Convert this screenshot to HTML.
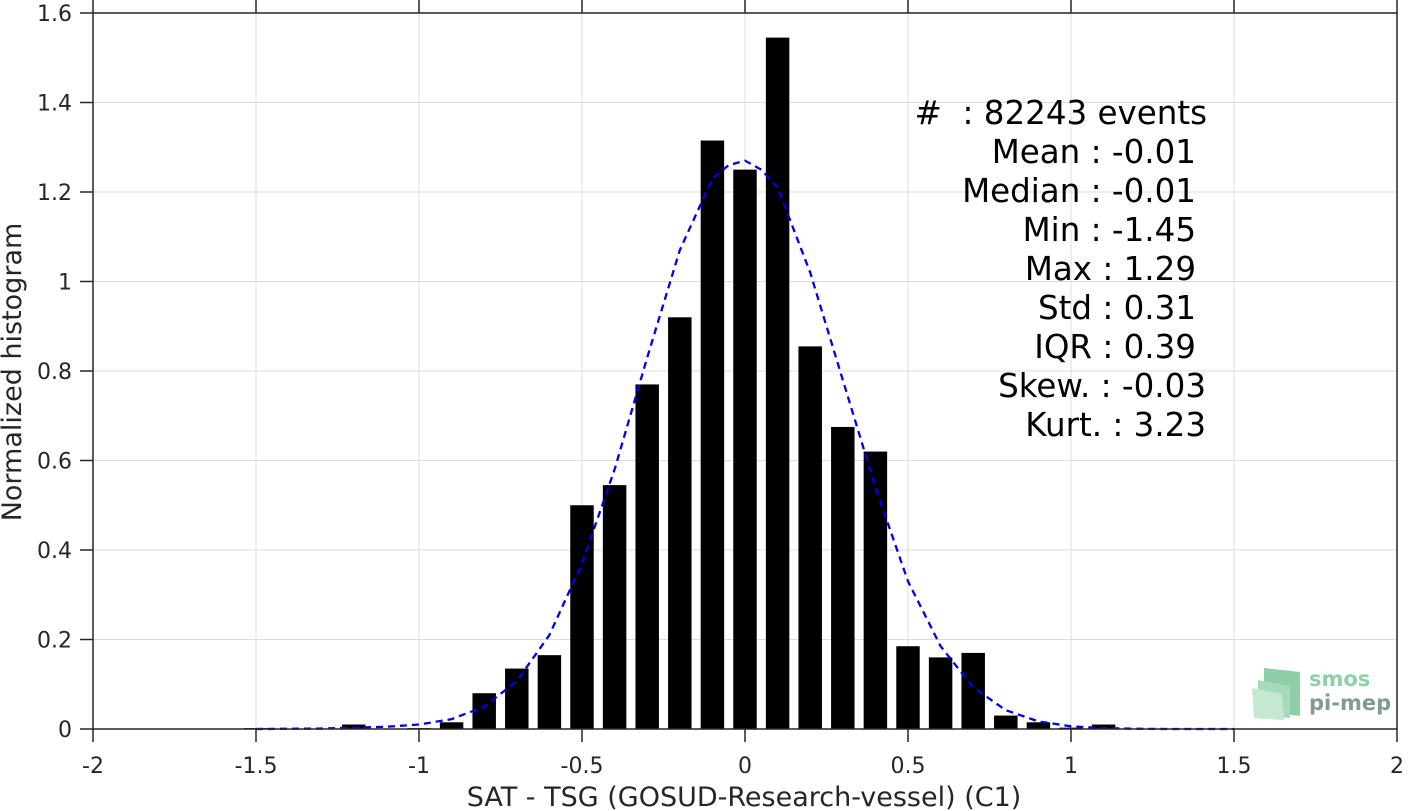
<!DOCTYPE html>
<html><head><meta charset="utf-8"><style>
html,body{margin:0;padding:0;background:#fff;}
svg{display:block;font-family:"DejaVu Sans","Liberation Sans",sans-serif;}
text{white-space:pre;}
</style></head><body>
<svg id="chart" width="1408" height="811" viewBox="0 0 1408 811" xmlns="http://www.w3.org/2000/svg">
<g id="grid"></g>
<g id="bars"></g>
<polyline id="fit" fill="none" stroke="#0000ee" stroke-width="2.3" stroke-dasharray="7,5"/>
<g id="axes"></g>
<g id="stats" font-size="32.5" fill="#000" text-anchor="end"></g>
<text x="744" y="806" font-size="27" fill="#262626" text-anchor="middle">SAT - TSG (GOSUD-Research-vessel) (C1)</text>
<text transform="translate(21,372) rotate(-90)" font-size="27" fill="#262626" text-anchor="middle">Normalized histogram</text>
<g>
<polygon points="1264,668 1300,672 1300,716 1264,712" fill="#8fcfa8"/>
<polygon points="1258,680 1290,686 1290,718 1258,716" fill="#a5dbb9"/>
<polygon points="1252,688 1282,694 1284,720 1254,718" fill="#c5e8d0"/>
<text x="1309" y="686" font-size="21" font-weight="bold" fill="#8fd0a8">smos</text>
<text x="1309" y="710" font-size="21" font-weight="bold" fill="#7f9c8c">pi-mep</text>
</g>
</svg>
<script>
const binCenters=[-1.5,-1.4,-1.3,-1.2,-1.1,-1.0,-0.9,-0.8,-0.7,-0.6,-0.5,-0.4,-0.3,-0.2,-0.1,0,0.1,0.2,0.3,0.4,0.5,0.6,0.7,0.8,0.9,1.0,1.1,1.2,1.3,1.4,1.5];
const binValues=[0.002,0,0,0.01,0,0.002,0.015,0.08,0.135,0.165,0.50,0.545,0.77,0.92,1.315,1.25,1.545,0.855,0.675,0.62,0.185,0.16,0.17,0.03,0.015,0.003,0.01,0,0,0,0];
const fitX=[-1.5,-1.4,-1.3,-1.2,-1.1,-1.0,-0.9,-0.8,-0.7,-0.6,-0.5,-0.4,-0.3,-0.2,-0.1,-0.05,0,0.05,0.1,0.2,0.3,0.4,0.5,0.6,0.7,0.8,0.9,1.0,1.1,1.2,1.3,1.4,1.5];
const fitY=[0,0.0005,0.001,0.003,0.005,0.01,0.022,0.05,0.107,0.21,0.37,0.58,0.83,1.07,1.23,1.26,1.27,1.25,1.21,1.02,0.78,0.54,0.33,0.185,0.093,0.042,0.017,0.006,0.002,0.0005,0,0,0];
const xTicks=[-2,-1.5,-1,-0.5,0,0.5,1,1.5,2];
const xTickLabels=["-2","-1.5","-1","-0.5","0","0.5","1","1.5","2"];
const yTicks=[0,0.2,0.4,0.6,0.8,1,1.2,1.4,1.6];
const yTickLabels=["0","0.2","0.4","0.6","0.8","1","1.2","1.4","1.6"];
const statLines=["#  : 82243 events","Mean : -0.01","Median : -0.01","Min : -1.45","Max : 1.29","Std : 0.31","IQR : 0.39","Skew. : -0.03","Kurt. : 3.23"];
const statRight=[1207,1196,1196,1196,1196,1196,1196,1206,1206];

const L=93,R=1397,T=13,B=729,xmin=-2,xmax=2,ymin=0,ymax=1.6,barW=0.072;
const sx=v=>L+(v-xmin)/(xmax-xmin)*(R-L);
const sy=v=>B-(v-ymin)/(ymax-ymin)*(B-T);
const NS="http://www.w3.org/2000/svg";
function mk(tag,parent,attrs){const e=document.createElementNS(NS,tag);for(const k in attrs)e.setAttribute(k,attrs[k]);parent.appendChild(e);return e;}
const grid=document.getElementById('grid'),axes=document.getElementById('axes'),bars=document.getElementById('bars');
xTicks.forEach((t,i)=>{
 const g=mk('line',grid,{x1:sx(t),x2:sx(t),y1:T,y2:B,stroke:'#dcdcdc','stroke-width':1});
 
 
 const tk=mk('line',axes,{x1:sx(t),x2:sx(t),y1:0,y2:T,stroke:'#262626','stroke-width':1.5});
 
 
 const tb=mk('line',axes,{x1:sx(t),x2:sx(t),y1:B,y2:B+13,stroke:'#262626','stroke-width':1.5});
 
 
 const lb=mk('text',axes,{x:sx(t),y:B+44,'font-size':22,fill:'#262626','text-anchor':'middle'});
 lb.textContent=xTickLabels[i];
 
 
});
yTicks.forEach((t,i)=>{
 const g=mk('line',grid,{x1:L,x2:R,y1:sy(t),y2:sy(t),stroke:'#dcdcdc','stroke-width':1});
 
 
 const tk=mk('line',axes,{x1:L-13,x2:L,y1:sy(t),y2:sy(t),stroke:'#262626','stroke-width':1.5});
 
 
 const lb=mk('text',axes,{x:L-21,y:sy(t)+8,'font-size':22,fill:'#262626','text-anchor':'end'});
 lb.textContent=yTickLabels[i];
 
 
});
const box=mk('rect',axes,{x:L,y:T,width:R-L,height:B-T,fill:'none',stroke:'#262626','stroke-width':1.5});


binCenters.forEach((c,i)=>{
 const v=binValues[i]; if(v<=0) return;
 const x0=sx(c-barW/2),x1=sx(c+barW/2),y=sy(v);
 const b=mk('rect',bars,{x:x0,y:y,width:x1-x0,height:Math.max(B-y,1),fill:'#000'});
 
 
});
document.getElementById('fit').setAttribute('points',fitX.map((x,i)=>sx(x)+','+sy(fitY[i])).join(' '));
const st=document.getElementById('stats');
statLines.forEach((s,i)=>{
 const t=mk('text',st,{x:statRight[i],y:124+i*39});
 t.textContent=s;
 
 
});
</script>
</body></html>
